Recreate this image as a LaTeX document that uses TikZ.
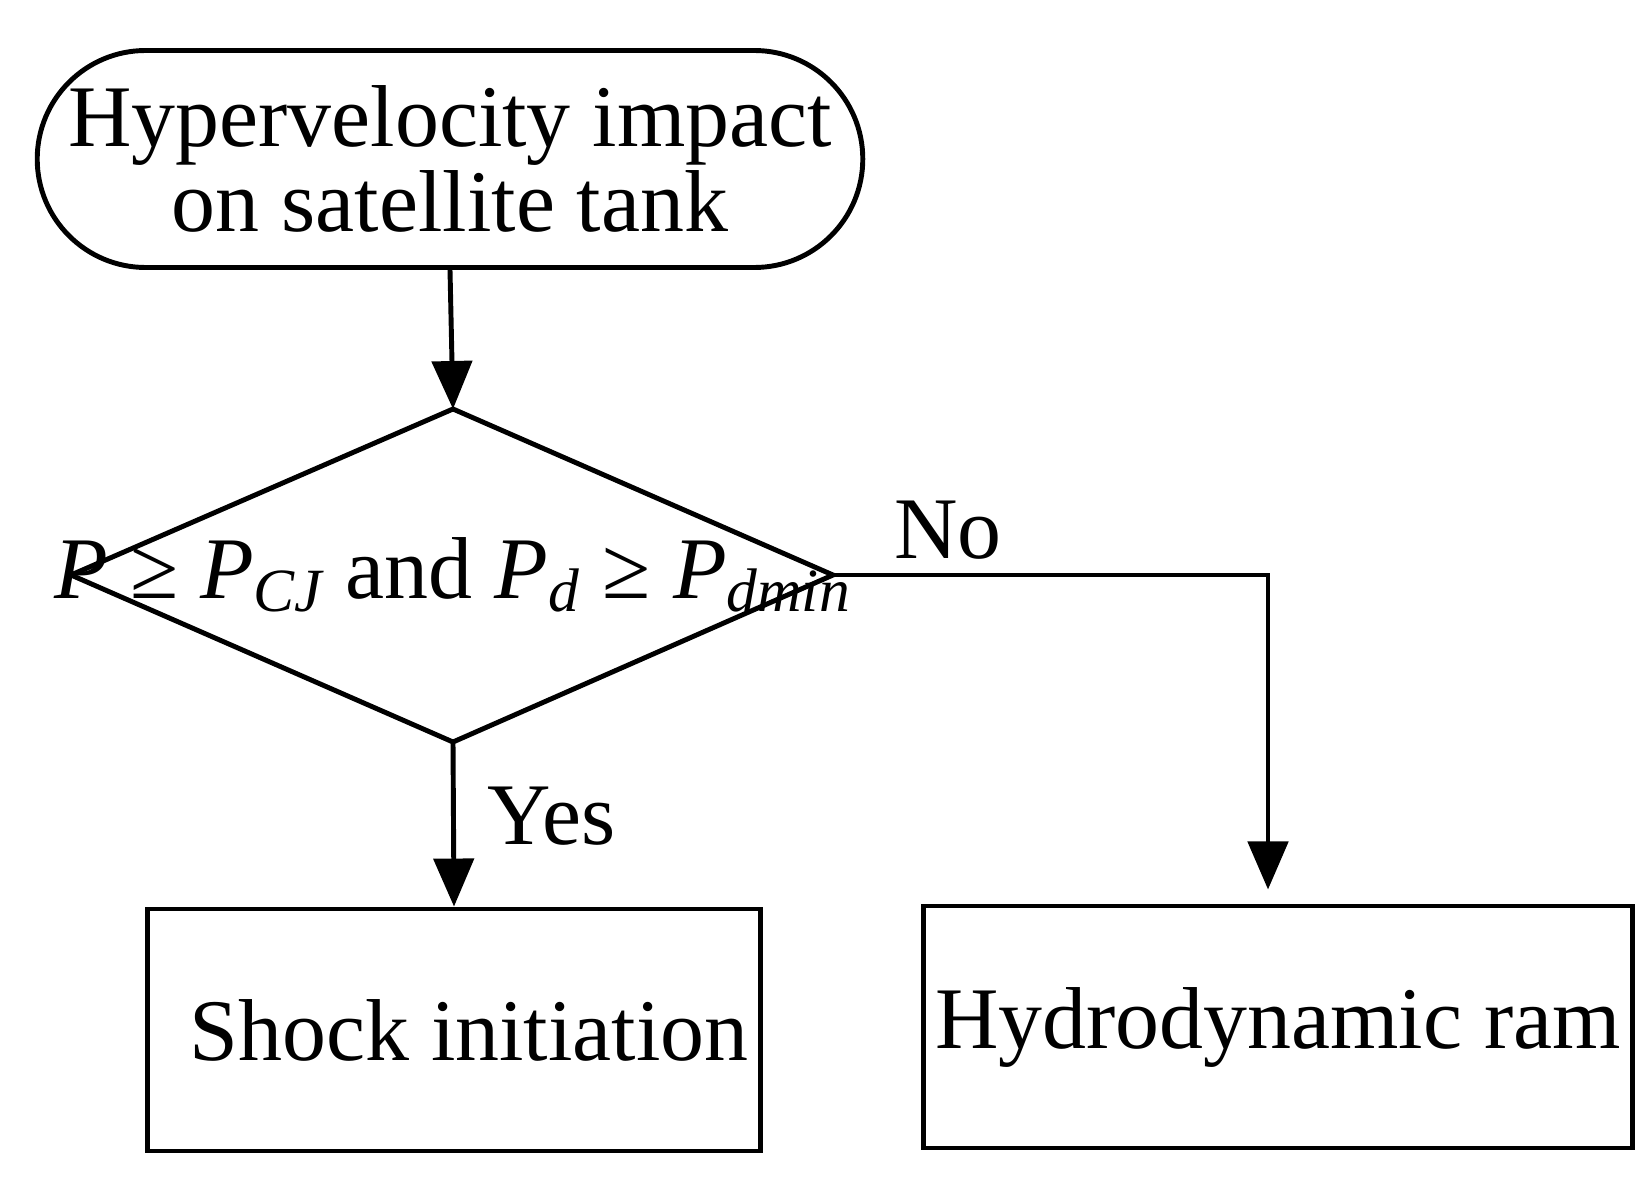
\documentclass[tikz,border=0pt]{standalone}
\usepackage{fontspec}
\setmainfont{Liberation Serif}
\usetikzlibrary{shapes.geometric,shapes.misc}
\usetikzlibrary{arrows.meta}
\tikzset{
	flowline/.style={line width=1.4pt,-{Triangle[length=0.48cm,width=0.4cm]}},
	startbox/.style={draw,line width=1.4pt,rounded rectangle,minimum width=8.49cm,minimum height=2.17cm,align=center,font=\fontsize{25}{28}\selectfont},
	taskbox/.style={draw,line width=1.4pt,rectangle,minimum height=2.42cm,font=\fontsize{25}{28}\selectfont},
}
\begin{document}
\begin{tikzpicture}[x=1cm,y=1cm]
				\useasboundingbox (0,0) rectangle (16.35,-11.87);
				\def\midx{4.53};
				\def\decy{-5.75};
				\def\turnx{12.68};
				\node[startbox] (impact) at (4.50,-1.59) {Hypervelocity impact\\[-4pt]on satellite tank};
				\draw[line width=1.4pt] (0.71,\decy) -- (\midx,-4.09) -- (8.33,\decy) -- (\midx,-7.42) -- cycle;
				\node[inner sep=0pt,font=\fontsize{25}{28}\selectfont] (check) at (\midx,\decy)
					{\itshape P \upshape≥ \itshape P\textsubscript{CJ} \upshape and \itshape P\textsubscript{d} \upshape≥ \itshape P\textsubscript{dmin}};
				\coordinate (dtop) at (\midx,-4.09);
				\coordinate (dbot) at (\midx,-7.42);
				\coordinate (dright) at (8.33,\decy);
				\coordinate (turn) at (\turnx,\decy);
				\node[taskbox,minimum width=6.05cm] (shock) at (4.54,-10.30) {\hspace*{0.3cm}Shock initiation};
				\node[taskbox,minimum width=6.65cm] (ram) at (12.78,-10.27) {Hydrodynamic ram};
				\draw[flowline] (impact.south) -- (dtop);
				\draw[flowline] (dbot) -- (shock.north) node[pos=0.45,right=0.2cm,font=\fontsize{25}{28}\selectfont] (yes) {Yes};
				\draw[flowline] (dright) -- (turn) -- ([yshift=4pt]turn|-ram.north);
				\node[font=\fontsize{25}{28}\selectfont] (no) at (9.48,-5.30) {No};
			\end{tikzpicture}
\end{document}
